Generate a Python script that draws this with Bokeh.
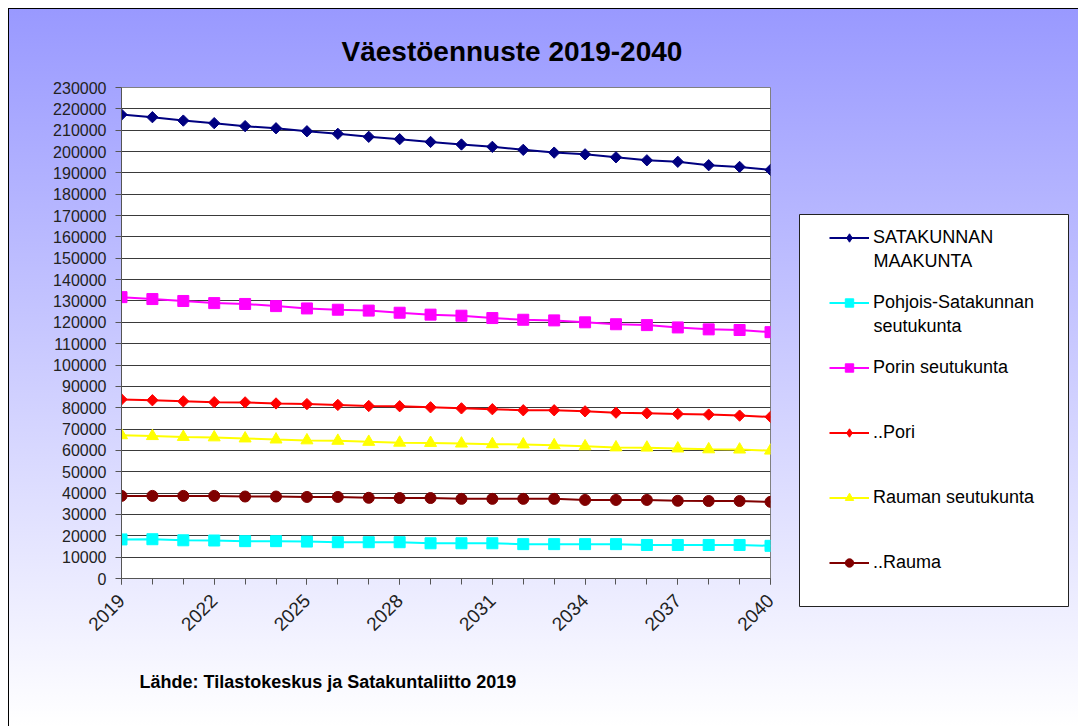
import math
from bokeh.plotting import figure
from bokeh.models import (Range1d, FixedTicker, Legend, LegendItem, Title, Label,
                          BasicTickFormatter, BoxAnnotation)
from bokeh.embed import file_html
from bokeh.resources import INLINE

years = list(range(2019, 2041))

satakunta = [217300, 216100, 214500, 213300, 211900, 210900, 209500, 208300, 206900, 205800, 204500,
             203300, 202200, 200800, 199500, 198700, 197300, 195900, 195200, 193600, 192800, 191400]
pohjois = [18300, 18400, 17900, 17800, 17500, 17500, 17300, 17000, 17000, 17000, 16500,
           16500, 16500, 16100, 16100, 16100, 16100, 15700, 15700, 15700, 15700, 15300]
porin_sk = [131800, 130900, 130000, 129000, 128600, 127600, 126500, 125900, 125500, 124500, 123600,
            123100, 122000, 121200, 120900, 120000, 119100, 118700, 117600, 116700, 116400, 115400]
pori = [83900, 83500, 83000, 82600, 82500, 82000, 81700, 81300, 80800, 80700, 80200,
        79700, 79300, 78800, 78800, 78300, 77700, 77400, 77100, 76800, 76300, 75700]
rauman_sk = [67100, 66700, 66300, 66100, 65600, 65100, 64700, 64500, 64000, 63600, 63500,
             63200, 62900, 62800, 62400, 61900, 61400, 61300, 60900, 60500, 60400, 59900]
rauma = [38700, 38700, 38700, 38700, 38400, 38400, 38200, 38200, 37800, 37700, 37700,
         37300, 37300, 37300, 37300, 36800, 36800, 36800, 36400, 36300, 36300, 35900]

# legend: first line of each label, and the second line where the label wraps
legend_line1 = ["SATAKUNNAN", "Pohjois-Satakunnan", "Porin seutukunta",
                "..Pori", "Rauman seutukunta", "..Rauma"]
legend_line2 = ["MAAKUNTA", "seutukunta", None, None, None, None]
series_values = [satakunta, pohjois, porin_sk, pori, rauman_sk, rauma]
series_colors = ["#000080", "#00FFFF", "#FF00FF", "#FF0000", "#FFFF00", "#800000"]
series_markers = ["square", "square", "square", "square", "triangle", "circle"]
legend_markers = ["diamond", "square", "square", "diamond", "triangle", "circle"]
series_angles = [math.pi / 4, 0, 0, math.pi / 4, 0, 0]
series_sizes = [8, 11, 11, 8, 12, 11]

y_ticks = list(range(0, 230001, 10000))
x_major = [2019, 2022, 2025, 2028, 2031, 2034, 2037, 2040]

title_text = "Väestöennuste 2019-2040"
source_text = "Lähde: Tilastokeskus ja Satakuntaliitto 2019"

FONT = "Liberation Sans"
GRADIENT = "linear-gradient(to bottom, #9999ff 0%, #ffffff 100%)"

# ---------------- main chart ----------------
p = figure(width=777, height=718, output_backend="svg", toolbar_location=None,
           x_range=Range1d(2019, 2040), y_range=Range1d(0, 230000),
           min_border_left=112, min_border_top=78, min_border_bottom=149, min_border_right=16)
p.styles = {"background": GRADIENT,
            "border-left": "1px solid #000000", "border-top": "1px solid #000000",
            "margin-left": "8px", "margin-top": "8px"}
p.border_fill_color = None
p.background_fill_color = "white"
p.outline_line_color = "#808080"
p.outline_line_width = 1

p.yaxis.ticker = FixedTicker(ticks=y_ticks)
p.yaxis.formatter = BasicTickFormatter(use_scientific=False)
p.yaxis.major_label_text_font = FONT
p.yaxis.major_label_text_font_size = "16px"
p.yaxis.major_label_text_color = "#222222"
p.yaxis.major_tick_out = 6
p.yaxis.major_tick_in = 0
p.yaxis.minor_tick_line_color = None
p.yaxis.axis_line_color = "#555555"
p.yaxis.major_tick_line_color = "#555555"
p.yaxis.major_label_standoff = 9

p.xaxis.ticker = FixedTicker(ticks=x_major, minor_ticks=years)
p.xaxis.major_label_orientation = math.pi / 4
p.xaxis.major_label_text_font = FONT
p.xaxis.major_label_text_font_size = "19px"
p.xaxis.major_label_text_color = "#222222"
p.xaxis.major_label_standoff = 13
p.xaxis.major_tick_out = 6
p.xaxis.major_tick_in = 0
p.xaxis.minor_tick_out = 6
p.xaxis.minor_tick_in = 0
p.xaxis.axis_line_color = "#555555"
p.xaxis.major_tick_line_color = "#555555"
p.xaxis.minor_tick_line_color = "#555555"

p.xgrid.grid_line_color = None
p.ygrid.ticker = FixedTicker(ticks=y_ticks)
p.ygrid.grid_line_color = "#3a3a3a"
p.ygrid.grid_line_width = 1

for vals, col, mk, ang, sz in zip(series_values, series_colors, series_markers,
                                  series_angles, series_sizes):
    p.line(years, vals, line_color=col, line_width=2)
    p.scatter(years, vals, marker=mk, angle=ang, size=sz, fill_color=col, line_color=col)

p.add_layout(Title(text=title_text, align="left", offset=220, standoff=41,
                   text_font=FONT, text_font_size="28px", text_font_style="bold",
                   text_color="black"), "above")
p.add_layout(Title(text=source_text, align="left", offset=18, standoff=60,
                   text_font=FONT, text_font_size="18px", text_font_style="bold",
                   text_color="black"), "below")

# ---------------- legend panel (separate root, placed to the right) ----------------
Q_H = 718  # panel height; its frame bottom sits at page y = 727
q = figure(width=293, height=Q_H, output_backend="svg", toolbar_location=None,
           x_range=Range1d(0, 1), y_range=Range1d(0, 1),
           x_axis_location=None, y_axis_location=None, min_border=0)
q.styles = {"background": GRADIENT, "border-top": "1px solid #000000",
            "position": "absolute", "left": "785px", "top": "8px"}
q.border_fill_color = None
q.background_fill_color = None
q.outline_line_color = None
q.grid.visible = False

# white legend box with thin border
q.add_layout(BoxAnnotation(left=14, right=283, bottom=121, top=513,
                           left_units="screen", right_units="screen",
                           bottom_units="screen", top_units="screen",
                           fill_color="white", fill_alpha=1.0,
                           line_color="#222222", line_width=1, line_alpha=1.0))

items = []
for name, vals, col, mk in zip(legend_line1, series_values, series_colors, legend_markers):
    # same data, but outside this panel's ranges: only the legend glyphs are seen
    r1 = q.line(years, vals, line_color=col, line_width=2)
    r2 = q.scatter(years, vals, marker=mk, fill_color=col, line_color=col)
    items.append(LegendItem(label=name, renderers=[r1, r2]))

legend = Legend(items=items, location=(44, 154), margin=0, padding=0,
                glyph_width=40, glyph_height=21, label_height=21, label_standoff=4,
                spacing=44, label_text_font=FONT, label_text_font_size="18px",
                label_text_color="black",
                border_line_color=None, background_fill_alpha=0.0)
q.add_layout(legend, "center")

# second lines of the wrapped legend labels (items every 65 px from page y 237)
for i, txt in enumerate(legend_line2):
    if txt:
        q.add_layout(Label(x=88, y=727 - (237 + 65 * i + 23), x_units="screen", y_units="screen",
                           text=txt, text_align="left", text_baseline="middle",
                           text_font=FONT, text_font_size="18px", text_color="black",
                           level="overlay"))

open("out.html", "w").write(file_html([p, q], INLINE))
